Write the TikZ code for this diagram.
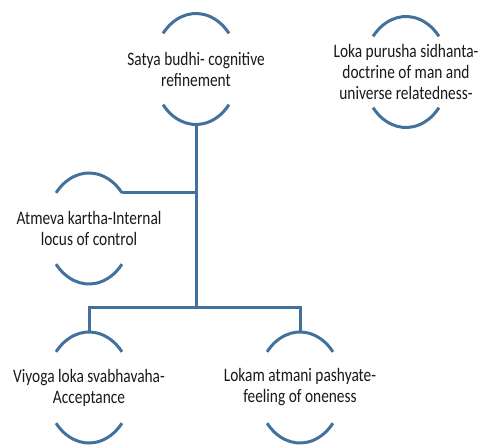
\documentclass[tikz,border=0pt]{standalone}
\usepackage{fontspec}
\setmainfont{Carlito}[FakeStretch=0.81]
\usetikzlibrary{calc}
\definecolor{linkblue}{RGB}{65,113,156}
\tikzset{
  label/.style={align=center, inner sep=0pt, text=black!90, font=\fontsize{19}{21}\selectfont},
  arcline/.style={draw=linkblue, line width=3pt},
  conn/.style={draw=linkblue, line width=3pt},
}
\begin{document}
\begin{tikzpicture}[x=1pt, y=-1pt]
\useasboundingbox (0,0) rectangle (481,445);
\node[label] (satya)  at (196,69)    {Satya budhi- cognitive\\refinement};
\node[label] (loka)   at (406,72)    {Loka purusha sidhanta-\\doctrine of man and\\universe relatedness-};
\node[label] (atmeva) at (89,228.5)  {Atmeva kartha-Internal\\locus of control};
\node[label] (viyoga) at (89,387.5)  {Viyoga loka svabhavaha-\\Acceptance};
\node[label] (lokam)  at (300,387.5) {Lokam atmani pashyate-\\feeling of oneness};
\foreach \n in {satya,loka,atmeva,viyoga,lokam}{
  \draw[arcline] ($(\n.center)+(140:43pt and 55.5pt)$) arc[start angle=140, end angle=40, x radius=43pt, y radius=55.5pt];
  \draw[arcline] ($(\n.center)+(220:43pt and 55.5pt)$) arc[start angle=220, end angle=320, x radius=43pt, y radius=55.5pt];
}
\coordinate (satyabot) at ($(satya.center)+(0pt,-55.5pt)$);
\coordinate (atmevatr) at ($(atmeva.center)+(40:43pt and 55.5pt)$);
\coordinate (viyogatop) at ($(viyoga.center)+(0pt,55.5pt)$);
\coordinate (lokamtop) at ($(lokam.center)+(0pt,55.5pt)$);
\coordinate (split) at (satyabot |- 0,307);
\draw[conn] (satyabot) -- (split);
\draw[conn] (atmevatr) -- (atmevatr -| split);
\draw[conn] (viyogatop) |- (split) -| (lokamtop);
\end{tikzpicture}
\end{document}
